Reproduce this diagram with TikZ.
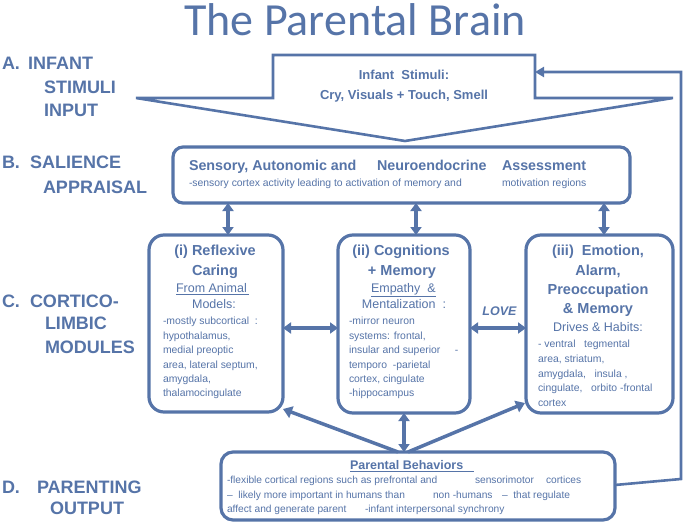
\documentclass[tikz,border=0pt]{standalone}
\usepackage{fontspec}
\setmainfont{Liberation Sans}
\newfontfamily\titlefont{Carlito}
\usetikzlibrary{arrows.meta,calc}
\definecolor{pb}{RGB}{86,116,168}
\newcommand\myfs[1]{\fontsize{#1}{#1}\selectfont}
\begin{document}
\begin{tikzpicture}[x=1pt,y=-1pt,
  every node/.style={inner sep=0pt, outer sep=0pt, text=pb},
  lbl/.style={anchor=base west, font=\bfseries\myfs{18}},
  frame/.style={draw=pb, line width=3.2pt, fill=white},
  dbl/.style={draw=pb, line width=3.5pt, {Triangle[length=8pt,width=11pt]}-{Triangle[length=8pt,width=11pt]}},
  sgl/.style={draw=pb, line width=3.5pt, -{Triangle[length=9pt,width=12pt]}},
  fbk/.style={draw=pb, line width=2.6pt, -{Triangle[length=9pt,width=10pt]}},
  hd/.style={anchor=base, font=\bfseries\myfs{14.5}},
  sub/.style={font=\myfs{12.5}},
  bdy/.style={anchor=base west, font=\myfs{10.4}},
  pbdy/.style={anchor=base west, font=\myfs{10.2}}
]
\useasboundingbox (0,0) rectangle (685,524);

% title
\node[anchor=base, font=\titlefont\myfs{46}] (title) at (355,36) {The Parental Brain};

% left labels
\node[lbl] (la1) at (2,69.5) {A.};
\node[lbl] (la2) at (28,69.5) {INFANT};
\node[lbl] (la3) at (44,93.5) {STIMULI};
\node[lbl] (la4) at (44,116.5) {INPUT};
\node[lbl] (lb1) at (2,168.5) {B.};
\node[lbl] (lb2) at (30,168.5) {SALIENCE};
\node[lbl] (lb3) at (43,193.5) {APPRAISAL};
\node[lbl] (lc1) at (2,307.5) {C.};
\node[lbl] (lc2) at (30,307.5) {CORTICO-};
\node[lbl] (lc3) at (45,329.5) {LIMBIC};
\node[lbl] (lc4) at (45,353.5) {MODULES};
\node[lbl] (ld1) at (2,493.5) {D.};
\node[lbl] (ld2) at (37,493.5) {PARENTING};
\node[lbl] (ld3) at (50,514.5) {OUTPUT};

% block arrow (infant stimuli input)
\draw[draw=pb, line width=2.6pt, fill=white, line join=miter]
  (136,98) -- (273,98) -- (273,55) -- (535,55) -- (535,98) -- (673,98) -- (405,141) -- cycle;
\coordinate (arr) at (535,72);
\node[anchor=base, font=\bfseries\myfs{13}] (inf1) at (404,79.7) {Infant\ \ Stimuli:};
\node[anchor=base, font=\bfseries\myfs{13}] (inf2) at (404,99.7) {Cry, Visuals + Touch, Smell};

% boxes
\node[frame, rounded corners=10pt, minimum width=457pt, minimum height=56pt] (sal) at (401.5,175) {};
\node[frame, rounded corners=15pt, minimum width=134pt, minimum height=177pt] (m1) at (216,323.5) {};
\node[frame, rounded corners=15pt, minimum width=132pt, minimum height=178pt] (m2) at (404,324) {};
\node[frame, rounded corners=15pt, minimum width=147pt, minimum height=178pt] (m3) at (599.5,324) {};
\node[frame, rounded corners=12pt, minimum width=394pt, minimum height=68pt] (par) at (418,486) {};

% salience text
\node[anchor=base west, font=\bfseries\myfs{14.3}] (st1) at (189,170.2) {Sensory, Autonomic and};
\node[anchor=base west, font=\bfseries\myfs{14.3}] (st2) at (377,170.2) {Neuroendocrine};
\node[anchor=base west, font=\bfseries\myfs{14.3}] (st3) at (502,170.2) {Assessment};
\node[anchor=base west, font=\myfs{10.4}] (ss1) at (189,186.8) {-sensory cortex activity leading to activation of memory and};
\node[anchor=base west, font=\myfs{10.4}] (ss2) at (502,186.8) {motivation regions};

% module (i)
\node[hd] (h11) at (215,255) {(i) Reflexive};
\node[hd] (h12) at (215,275) {Caring};
\node[sub, anchor=base west] (u11) at (176,292.5) {\underline{From Animal\,}};
\node[sub, anchor=base] (u12) at (214,308.5) {Models:};
\foreach \t [count=\i from 0] in {{-mostly subcortical\ \ :},{hypothalamus,},{medial preoptic},{area, lateral septum,},{amygdala,},{thalamocingulate}}
  \node[bdy] (b1\i) at (163,324.8+14.4*\i) {\t};

% module (ii)
\node[hd] (h21) at (401,255) {(ii) Cognitions};
\node[hd] (h22) at (402,275) {+ Memory};
\node[sub, anchor=base west] (u21) at (371,292.5) {\underline{Empathy\ \ \&}};
\node[sub, anchor=base] (u22) at (404,308.5) {Mentalization\ \ :};
\foreach \t [count=\i from 0] in {{-mirror neuron},{systems: frontal,},{insular and superior\ \ \ \ \ -},{temporo\ \ -parietal},{cortex, cingulate},{-hippocampus}}
  \node[bdy] (b2\i) at (349,324.8+14.4*\i) {\t};

% module (iii)
\node[hd] (h31) at (598,255) {(iii)\ \ Emotion,};
\node[hd] (h32) at (598,275) {Alarm,};
\node[hd] (h33) at (598,294) {Preoccupation};
\node[hd] (h34) at (598,313) {\& Memory};
\node[sub, anchor=base] (u31) at (598,331.5) {Drives \& Habits:};
\foreach \t [count=\i from 0] in {{- ventral\ \ \ tegmental},{area, striatum,},{amygdala,\ \ \ insula ,},{cingulate,\ \ \ orbito -frontal},{cortex}}
  \node[bdy] (b3\i) at (538,347.8+14.7*\i) {\t};

\node[anchor=base, font=\bfseries\itshape\myfs{12.5}] (love) at (499.5,315.5) {LOVE};

% parental text
\node[anchor=base west, font=\bfseries\myfs{12.5}] (pt) at (350,469.7) {\underline{Parental Behaviors\ \ \ }};
\node[pbdy] (p11) at (227,483.7) {-flexible cortical regions such as prefrontal and};
\node[pbdy] (p12) at (475,483.7) {sensorimotor};
\node[pbdy] (p13) at (546,483.7) {cortices};
\node[pbdy] (p21) at (227,498.2) {--\ \ likely more important in humans than};
\node[pbdy] (p22) at (433,498.2) {non -humans};
\node[pbdy] (p23) at (502,498.2) {--\ \ that regulate};
\node[pbdy] (p31) at (227,512.7) {affect and generate parent};
\node[pbdy] (p32) at (365,512.7) {-infant interpersonal synchrony};

% connectors
\coordinate (s1) at ($(m1.north)+(12,0)$);
\coordinate (s2) at ($(m2.north)+(12,0)$);
\coordinate (s3) at ($(m3.north)+(4.5,0)$);
\draw[dbl] (s1) -- (s1 |- sal.south);
\draw[dbl] (s2) -- (s2 |- sal.south);
\draw[dbl] (s3) -- (s3 |- sal.south);
\draw[dbl] ($(m1.east)+(0,4.5)$) -- ($(m2.west)+(0,4)$);
\draw[dbl] ($(m2.east)+(0,4)$) -- ($(m3.west)+(0,4)$);
\draw[dbl] (m2.south) -- (m2.south |- par.north);
\coordinate (pl) at ($(par.north)+(-20,0)$);
\coordinate (pr) at ($(par.north)+(-10,0)$);
\coordinate (c1) at ($(m1.south east)+(0,-3)$);
\coordinate (c3) at ($(m3.south west)+(-1,-10)$);
\draw[sgl] (pl) -- (c1);
\draw[sgl] (pr) -- (c3);
\coordinate (fb1) at (681,479);
\coordinate (fb2) at (681,72);
\draw[fbk] ($(par.east)+(0,-1)$) -- (fb1) -- (fb2) -- (arr);
\end{tikzpicture}
\end{document}
